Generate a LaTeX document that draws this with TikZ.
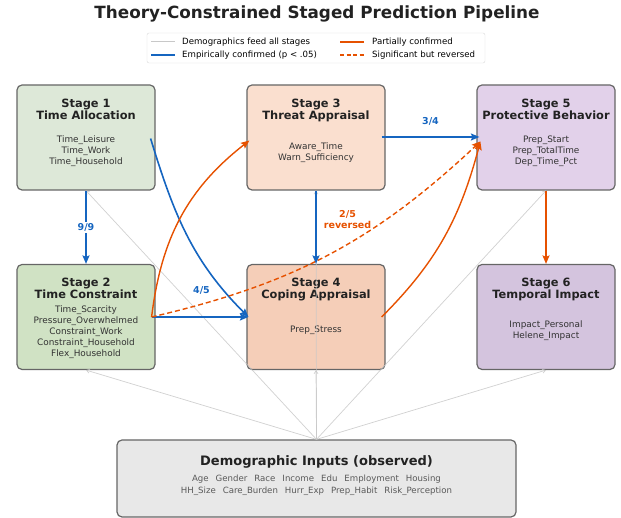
\documentclass[tikz,border=0pt]{standalone}
\usepackage{fontspec}
\setmainfont{DejaVu Sans}
\usetikzlibrary{arrows.meta}
\definecolor{confblue}{HTML}{1565C0}
\definecolor{partorange}{HTML}{E65100}
\definecolor{feedgray}{HTML}{C8C8C8}
\definecolor{boxedge}{HTML}{666666}
\definecolor{titlegray}{HTML}{222222}
\definecolor{bodygray}{HTML}{333333}
\definecolor{allocfill}{HTML}{DDE8D8}
\definecolor{constrfill}{HTML}{D0E2C4}
\definecolor{threatfill}{HTML}{FADFCF}
\definecolor{copingfill}{HTML}{F5CEB8}
\definecolor{protfill}{HTML}{E2D1EA}
\definecolor{impactfill}{HTML}{D4C4DE}
\definecolor{demofill}{HTML}{E8E8E8}

\begin{document}
\begin{tikzpicture}[x=1pt,y=1pt,
    stage/.style={draw=boxedge,line width=1.2pt,rounded corners=5pt,minimum width=138pt,minimum height=105pt,inner sep=0pt},
    stagetitle/.style={font=\fontsize{11.4}{12.3}\selectfont\bfseries,text=titlegray,align=center,anchor=north,inner sep=0pt},
    stagebody/.style={font=\fontsize{8.9}{11}\selectfont,text=bodygray,align=center,inner sep=0pt},
    conf/.style={-{Stealth[length=8.5pt,width=7pt,inset=1.5pt]},confblue,line width=1.6pt},
    part/.style={-{Stealth[length=8.5pt,width=7pt,inset=1.5pt]},partorange,line width=1.4pt},
    rev/.style={part,dash pattern=on 5pt off 3pt},
    feed/.style={-{Straight Barb[length=3pt,width=4pt]},feedgray,line width=0.7pt,draw opacity=0.85},
    legendtext/.style={anchor=west,inner sep=0pt,font=\fontsize{8.6}{10}\selectfont},
    edgelabel/.style={font=\fontsize{9.5}{11}\selectfont\bfseries,inner sep=1.5pt}
  ]
  \useasboundingbox (0,0) rectangle (621,518);

  % title and legend
  \node (title) at (317,504) {\fontsize{16.8}{19}\selectfont\bfseries\color{titlegray}Theory-Constrained Staged Prediction Pipeline};
  \node (legend) [draw=black!15,rounded corners=2pt,minimum width=338pt,minimum height=30pt,inner sep=0pt] at (316,470) {};
  \draw [feedgray,line width=1pt] (151,476) -- (175,476);
  \draw [confblue,line width=1.8pt] (151,463) -- (175,463);
  \draw [partorange,line width=1.8pt] (340,476) -- (364,476);
  \draw [partorange,line width=1.8pt,dash pattern=on 4pt off 2.5pt] (340,463) -- (364,463);
  \node (lg1) [legendtext] at (182,476) {Demographics feed all stages};
  \node (lg2) [legendtext] at (182,463) {Empirically confirmed (p < .05)};
  \node (lg3) [legendtext] at (372,476) {Partially confirmed};
  \node (lg4) [legendtext] at (372,463) {Significant but reversed};

  % stage boxes
  \node (s1) [stage,fill=allocfill] at (86,380.5) {};
  \node (s3) [stage,fill=threatfill] at (316,380.5) {};
  \node (s5) [stage,fill=protfill] at (546,380.5) {};
  \node (s2) [stage,fill=constrfill] at (86,201) {};
  \node (s4) [stage,fill=copingfill] at (316,201) {};
  \node (s6) [stage,fill=impactfill] at (546,201) {};

  \node (s1t) [stagetitle] at ([yshift=-14pt]s1.north) {Stage 1\\Time Allocation};
  \node (s3t) [stagetitle] at ([yshift=-14pt]s3.north) {Stage 3\\Threat Appraisal};
  \node (s5t) [stagetitle] at ([yshift=-14pt]s5.north) {Stage 5\\Protective Behavior};
  \node (s2t) [stagetitle] at ([yshift=-14pt]s2.north) {Stage 2\\Time Constraint};
  \node (s4t) [stagetitle] at ([yshift=-14pt]s4.north) {Stage 4\\Coping Appraisal};
  \node (s6t) [stagetitle] at ([yshift=-14pt]s6.north) {Stage 6\\Temporal Impact};

  \node (s1b) [stagebody] at ([yshift=-14pt]s1.center) {Time\_Leisure\\Time\_Work\\Time\_Household};
  \node (s3b) [stagebody] at ([yshift=-15pt]s3.center) {Aware\_Time\\Warn\_Sufficiency};
  \node (s5b) [stagebody] at ([yshift=-14pt]s5.center) {Prep\_Start\\Prep\_TotalTime\\Dep\_Time\_Pct};
  \node (s2b) [stagebody] at ([yshift=-15pt]s2.center) {Time\_Scarcity\\Pressure\_Overwhelmed\\Constraint\_Work\\Constraint\_Household\\Flex\_Household};
  \node (s4b) [stagebody] at ([yshift=-13pt]s4.center) {Prep\_Stress};
  \node (s6b) [stagebody] at ([yshift=-14pt]s6.center) {Impact\_Personal\\Helene\_Impact};

  % demographics box
  \node (demo) [stage,fill=demofill,minimum width=399pt,minimum height=77pt] at (316.5,39.5) {};
  \node (demot) [inner sep=0pt,font=\fontsize{13}{15}\selectfont\bfseries,text=titlegray] at (316.5,56) {Demographic Inputs (observed)};
  \node (demob) [inner sep=0pt,font=\fontsize{8.6}{12}\selectfont,text=black!65,align=center] at (316.5,33) {Age\hspace{7pt}Gender\hspace{7pt}Race\hspace{7pt}Income\hspace{7pt}Edu\hspace{7pt}Employment\hspace{7pt}Housing\\HH\_Size\hspace{7pt}Care\_Burden\hspace{7pt}Hurr\_Exp\hspace{7pt}Prep\_Habit\hspace{7pt}Risk\_Perception};

  % demographics feed every stage
  \foreach \s in {s1,s2,s3,s4,s5,s6}
    \draw [feed] (demo.north) -- (\s.south);

  % theory paths
  \draw [conf] (s1.south) -- node[edgelabel,text=confblue,fill=white]{9/9} (s2.north);
  \draw [conf] ([xshift=-5pt,yshift=-1pt]s1.east) to[out=-73,in=135] node[edgelabel,text=confblue,pos=0.84,left=12pt]{4/5} ([xshift=2pt]s4.west);
  \draw [conf] ([xshift=-4pt]s2.east) -- ([xshift=2pt]s4.west);
  \draw [conf] (s3.south) -- (s4.north);
  \draw [conf] ([xshift=-4pt,yshift=0.5pt]s3.east) -- node[edgelabel,text=confblue,above=9pt]{3/4} ([xshift=3pt,yshift=0.5pt]s5.west);
  \draw [part] ([xshift=-4pt]s2.east) to[out=83,in=-142] ([xshift=3pt,yshift=-3pt]s3.west);
  \draw [rev] ([xshift=-4pt]s2.east) to[bend right=15] node[edgelabel,text=partorange,align=center,pos=0.56,above=13pt]{2/5\\reversed} ([xshift=4pt,yshift=-4pt]s5.west);
  \draw [part] ([xshift=-4pt]s4.east) to[out=45,in=-105] ([xshift=4pt,yshift=-4pt]s5.west);
  \draw [part] (s5.south) -- (s6.north);
\end{tikzpicture}
\end{document}
